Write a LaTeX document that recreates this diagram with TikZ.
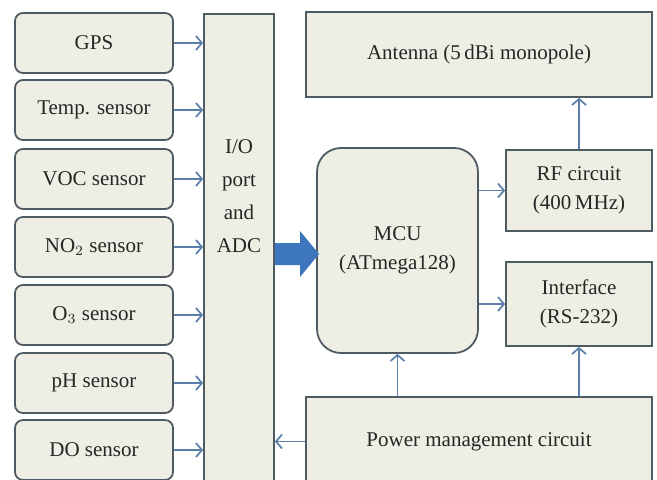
\documentclass[tikz,border=0pt]{standalone}
\usepackage{fontspec}
\setmainfont{Liberation Serif}
\usetikzlibrary{arrows.meta}
\definecolor{boxfill}{HTML}{EFEEE4}
\definecolor{boxline}{HTML}{4F5B63}
\definecolor{linkblue}{HTML}{5A7FAA}
\definecolor{bigblue}{HTML}{3D76BD}
\tikzset{
  sensorbox/.style={draw=boxline, fill=boxfill, line width=0.9pt, rounded corners=4pt,
    minimum width=79pt, minimum height=30pt, inner sep=0pt},
  blockbox/.style={draw=boxline, fill=boxfill, line width=0.9pt, inner sep=0pt, align=center},
  linkarrow/.style={draw=linkblue, line width=0.85pt, -{Straight Barb[length=3pt,width=7pt]}},
}

\begin{document}
\begin{tikzpicture}[x=0.5pt,y=-0.5pt, font=\fontsize{10.5}{14.5}\selectfont, text=black!85]
  \useasboundingbox (0,0) rectangle (657,479);
  \clip (0,0) rectangle (657,479);
  \fill[white] (0,0) rectangle (657,479);
  % sensors
  \foreach \nm/\lbl/\y in {gps/GPS/43, temp/Temp. sensor/110, voc/VOC sensor/179,
      no2/NO$_2$ sensor/247, o3/O$_3$ sensor/315, ph/pH sensor/383, do/DO sensor/450}
    \node[sensorbox] (\nm) at (94,\y) {\lbl};
  % I/O block
  \node[blockbox, minimum width=35pt, minimum height=255pt, anchor=north] (io) at (239,13) {};
  \node[align=center, font=\fontsize{10.5}{16.5}\selectfont] (iolbl) at (239,196) {I/O\\port\\and\\ADC};
  % right side
  \node[blockbox, minimum width=173pt, minimum height=42.5pt] (ant) at (479,54.5) {Antenna (5\,dBi monopole)};
  \node[blockbox, rounded corners=12pt, minimum width=80.5pt, minimum height=102.5pt] (mcu) at (397.5,250.5) {MCU\\(ATmega128)};
  \node[blockbox, minimum width=73pt, minimum height=40.5pt] (rf) at (579,190.5) {RF circuit\\(400\,MHz)};
  \node[blockbox, minimum width=73pt, minimum height=42pt] (iface) at (579,304) {Interface\\(RS-232)};
  \node[blockbox, minimum width=173pt, minimum height=44.5pt] (pwr) at (479,441.5) {Power management circuit};
  % connectors
  \foreach \nm in {gps,temp,voc,no2,o3,ph,do}
    \draw[linkarrow] (\nm.east) -- (\nm.east -| io.west);
  \draw[linkarrow] (mcu.east |- rf.west) -- (rf.west);
  \draw[linkarrow] (mcu.east |- iface.west) -- (iface.west);
  \draw[linkarrow] (rf.north) -- (rf.north |- ant.south);
  \draw[linkarrow] (pwr.north -| mcu.south) -- (mcu.south);
  \draw[linkarrow] (pwr.north -| iface.south) -- (iface.south);
  \draw[linkarrow] (pwr.west) -- (pwr.west -| io.east);
  % big arrow into MCU
  \coordinate (tip) at (319,254);
  \fill[bigblue] (io.east |- 0,243) -- (300,243) -- (300,231) -- (tip)
    -- (300,277) -- (300,265) -- (io.east |- 0,265) -- cycle;
\end{tikzpicture}
\end{document}
